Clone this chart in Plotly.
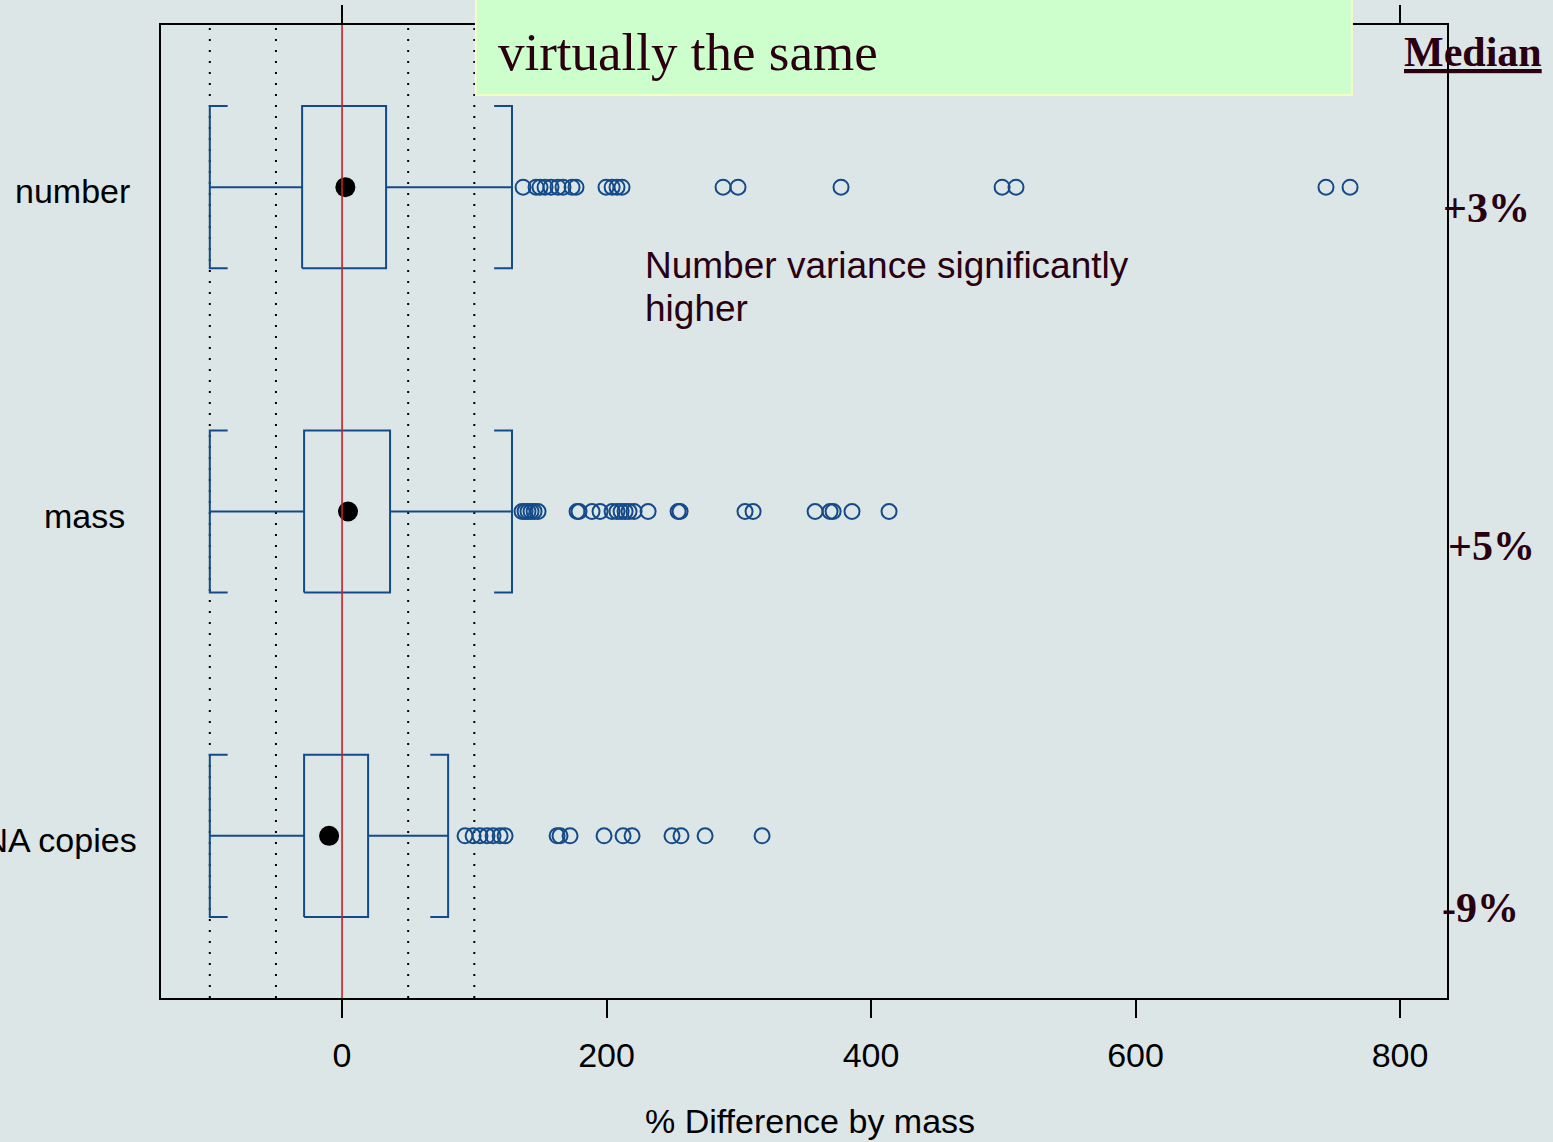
import plotly.graph_objects as go

# ---------------- data ----------------
categories = ["DNA copies", "mass", "number"]          # bottom -> top
cat_pos = [1, 2, 3]
q1 = [-28.7, -28.7, -30.2]
median = [-9.8, 4.5, 2.5]
q3 = [19.7, 36.3, 33.3]
whisk_lo = [-100, -100, -100]
whisk_hi = [80.2, 128.5, 128.5]

out_copies = [93.0, 99.1, 104.3, 109.6, 114.2, 119.5, 123.3, 162.6, 164.8, 172.4,
              198.1, 212.5, 219.3, 249.5, 256.3, 274.5, 317.6]
out_mass = [136.1, 138.4, 140.6, 142.9, 145.2, 148.2, 177.7, 179.2, 189.0, 195.1,
            204.2, 207.9, 211.0, 214.0, 217.0, 220.8, 231.4, 254.1, 255.6, 304.7,
            310.8, 357.7, 369.0, 371.3, 385.6, 413.6]
out_number = [136.9, 146.7, 149.7, 153.5, 158.0, 163.3, 167.1, 173.9, 176.9, 199.6,
              204.2, 207.9, 211.7, 288.1, 299.4, 377.3, 499.1, 509.6, 744.0, 762.2]
outliers = [out_copies, out_mass, out_number]

ref_lines = [-100, -50, 50, 100]
zero_line = 0
x_ticks = [0, 200, 400, 600, 800]
median_labels = ["-9%", "+5%", "+3%"]

# ---------------- style ----------------
BG = "#dce6e7"
BOX = "#154a8a"
TXT = "#2a0010"
SANS = "Liberation Sans, Arial, sans-serif"
SERIF = "Liberation Serif, Times New Roman, serif"
HALF = 0.25
CAP = 13.5

fig = go.Figure()

# boxes, whiskers, bracket caps
for i, yp in enumerate(cat_pos):
    lo, a, b, hi = whisk_lo[i], q1[i], q3[i], whisk_hi[i]
    xs = [a, b, b, a, a, None,
          lo, a, None, b, hi, None,
          lo + CAP, lo, lo, lo + CAP, None,
          hi - CAP, hi, hi, hi - CAP]
    ys = [yp - HALF, yp - HALF, yp + HALF, yp + HALF, yp - HALF, None,
          yp, yp, None, yp, yp, None,
          yp - HALF, yp - HALF, yp + HALF, yp + HALF, None,
          yp - HALF, yp - HALF, yp + HALF, yp + HALF]
    fig.add_trace(go.Scatter(x=xs, y=ys, mode="lines",
                             line=dict(color=BOX, width=2), hoverinfo="skip",
                             showlegend=False))
    fig.add_trace(go.Scatter(x=outliers[i], y=[yp] * len(outliers[i]), mode="markers",
                             marker=dict(symbol="circle-open", size=15,
                                         line=dict(color=BOX, width=2), color=BOX),
                             showlegend=False))

# reference lines
for v in ref_lines:
    fig.add_shape(type="line", xref="x", yref="paper", x0=v, x1=v, y0=0, y1=1,
                  line=dict(color="black", width=2, dash="2px,9px"), layer="below")
fig.add_shape(type="line", xref="x", yref="paper", x0=zero_line, x1=zero_line, y0=0, y1=1,
              line=dict(color="#cc1f1f", width=1.6), layer="above")

# median dots
fig.add_trace(go.Scatter(x=median, y=cat_pos, mode="markers",
                         marker=dict(symbol="circle", size=20, color="black"),
                         showlegend=False))

# green note box
fig.add_shape(type="rect", xref="paper", yref="paper", x0=0.2449, x1=0.9261,
              y0=0.928, y1=1.03, fillcolor="#ccffcc",
              line=dict(color="#f4ffc8", width=2), layer="above")
fig.add_annotation(xref="paper", yref="paper", x=0.2603, y=0.9723, xanchor="left",
                   yanchor="middle", text="virtually the same", showarrow=False,
                   font=dict(family=SERIF, size=53, color=TXT))
fig.add_annotation(xref="paper", yref="paper", x=0.9650, y=0.972, xanchor="left",
                   yanchor="middle", text="<b><u>Median</u></b>", showarrow=False,
                   font=dict(family=SERIF, size=42, color=TXT))

# median percentage labels
lab_x = [0.9946, 0.9992, 0.9953]
lab_y = [0.0925, 0.4645, 0.8119]
for t, lx, ly in zip(median_labels, lab_x, lab_y):
    fig.add_annotation(xref="paper", yref="paper", x=lx, y=ly, xanchor="left",
                       yanchor="middle", text="<b>" + t + "</b>", showarrow=False,
                       font=dict(family=SERIF, size=42, color=TXT))

# variance note
fig.add_annotation(xref="paper", yref="paper", x=0.3748, y=(998 - 265) / 973,
                   xanchor="left", yanchor="middle", text="Number variance significantly",
                   showarrow=False, font=dict(family=SANS, size=37, color=TXT))
fig.add_annotation(xref="paper", yref="paper", x=0.3748, y=(998 - 308) / 973,
                   xanchor="left", yanchor="middle", text="higher",
                   showarrow=False, font=dict(family=SANS, size=37, color=TXT))

# category labels
cat_label_x = [-0.0172, -0.0264, -0.0225]
for c, yp, lx in zip(categories, cat_pos, cat_label_x):
    fig.add_annotation(xref="paper", yref="y", x=lx, y=yp, xanchor="right",
                       yanchor="middle", text=c, showarrow=False, yshift=-4,
                       font=dict(family=SANS, size=34, color="black"))

# x-axis title
fig.add_annotation(xref="paper", yref="paper", x=0.5047, y=-0.1264, xanchor="center",
                   yanchor="middle", text="% Difference by mass", showarrow=False,
                   font=dict(family=SANS, size=34, color="black"))

fig.update_layout(
    width=1553, height=1142,
    margin=dict(l=161, r=106, t=25, b=144, autoexpand=False),
    paper_bgcolor=BG, plot_bgcolor=BG,
    showlegend=False,
    xaxis=dict(range=[-136.9, 835.5], tickvals=x_ticks, ticks="outside", ticklen=18,
               tickwidth=1.5, tickcolor="black", showline=True, linewidth=2,
               linecolor="black", mirror="ticks", showgrid=False, zeroline=False,
               automargin=False, ticklabelstandoff=8,
               tickfont=dict(family=SANS, size=34, color="black")),
    yaxis=dict(range=[0.5, 3.5], showticklabels=False, ticks="", showline=True,
               linewidth=2, linecolor="black", mirror=True, showgrid=False,
               zeroline=False, automargin=False),
)

fig.write_html(
    "out.html",
    config={"displayModeBar": False},
    post_script=("document.body.style.margin='0px';"
                 "document.body.style.overflow='hidden';"
                 "document.body.style.background='" + BG + "';"
                 "document.documentElement.style.background='" + BG + "';"),
)
